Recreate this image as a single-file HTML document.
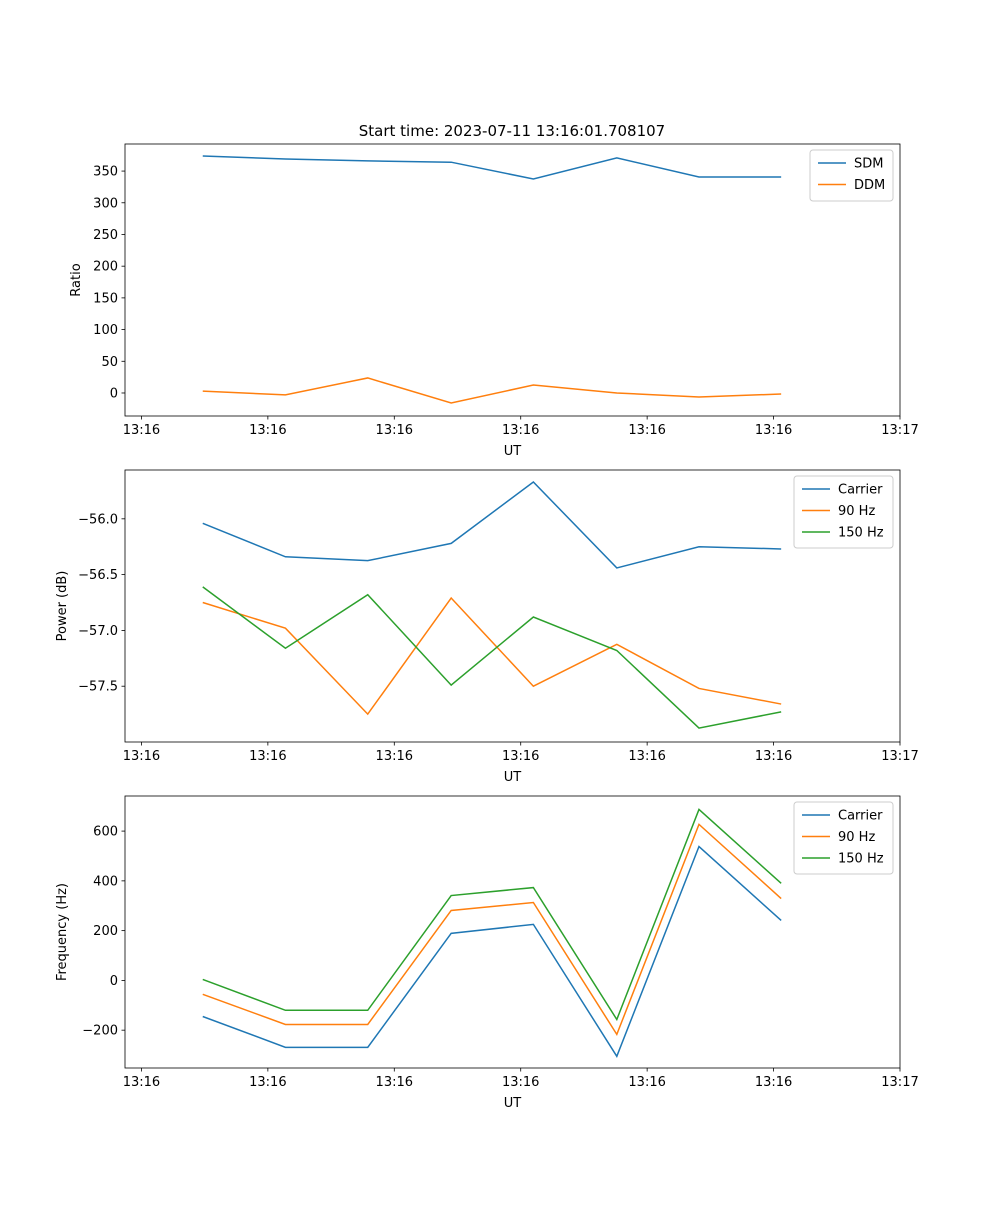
<!DOCTYPE html>
<html><head><meta charset="utf-8"><style>
body{margin:0;background:#fff;}
svg text{font-family:"DejaVu Sans","Liberation Sans",sans-serif;font-size:13px;fill:#000;}
</style></head><body>
<svg id="fig" width="1000" height="1200" viewBox="0 0 1000 1200" xmlns="http://www.w3.org/2000/svg">
<text x="512" y="136" text-anchor="middle" font-size="15" style="font-size:15px">Start time: 2023-07-11 13:16:01.708107</text>
</svg>
<script>
const times = [4.85, 11.39, 17.9, 24.5, 31.0, 37.6, 44.1, 50.6];
const xTickVals = [0, 10, 20, 30, 40, 50, 60];
const xTickLabels = ["13:16","13:16","13:16","13:16","13:16","13:16","13:17"];
const sdm = [373.8, 369, 366, 364, 337.5, 370.7, 340.7, 340.7];
const ddm = [3, -3, 23.7, -15.8, 12.6, 0, -6.3, -1.6];
const powCarrier = [-56.04, -56.34, -56.375, -56.22, -55.67, -56.44, -56.25, -56.27];
const pow90 = [-56.75, -56.98, -57.75, -56.71, -57.5, -57.125, -57.52, -57.66];
const pow150 = [-56.61, -57.16, -56.68, -57.49, -56.88, -57.18, -57.875, -57.73];
const freqCarrier = [-145, -269, -269, 189, 225, -305, 538, 241];
const freq90 = [-56, -177, -177, 281, 313, -217, 627, 329];
const freq150 = [4, -120, -120, 341, 373, -157, 687, 390];
const ratioTicks = [0, 50, 100, 150, 200, 250, 300, 350];
const powTicks = [-56.0, -56.5, -57.0, -57.5];
const freqTicks = [-200, 0, 200, 400, 600];

const NS = "http://www.w3.org/2000/svg";
const svg = document.getElementById("fig");
const colors = ["#1f77b4", "#ff7f0e", "#2ca02c"];
function mk(tag, attrs, parent){const e=document.createElementNS(NS,tag);for(const k in attrs)e.setAttribute(k,attrs[k]);(parent||svg).appendChild(e);return e;}

function panel(name, top, yMin, yMax, yTicks, yFmt, ylabel, series, labels, legX, legW){
  const L=125,R=900,T=top,B=top+272;
  const xMin=-1.3,xMax=60;
  const xs=v=>L+(v-xMin)/(xMax-xMin)*(R-L);
  const ys=v=>B-(v-yMin)/(yMax-yMin)*(B-T);
  const g=mk("g",{});
  
  
  series.forEach((s,i)=>{
    const p=mk("polyline",{points:s.map((v,j)=>xs(times[j])+","+ys(v)).join(" "),fill:"none",stroke:colors[i],"stroke-width":1.5},g);
    
    
  });
  const fr=mk("rect",{x:L,y:T,width:R-L,height:B-T,fill:"none",stroke:"#000","stroke-width":0.8},g);
  
  
  xTickVals.forEach((v,i)=>{
    const x=xs(v);
    mk("line",{x1:x,x2:x,y1:B,y2:B+3.5,stroke:"#000","stroke-width":0.8},g);
    const t=mk("text",{x:x,y:B+18,"text-anchor":"middle"},g);t.textContent=xTickLabels[i];
    
    
  });
  yTicks.forEach(v=>{
    const y=ys(v);
    mk("line",{x1:L-3.5,x2:L,y1:y,y2:y,stroke:"#000","stroke-width":0.8},g);
    const t=mk("text",{x:L-7,y:y+4.5,"text-anchor":"end"},g);t.textContent=yFmt(v);
    
    
  });
  const xl=mk("text",{x:(L+R)/2,y:B+39,"text-anchor":"middle"},g);xl.textContent="UT";
  
  
  const ylx = ylabel==="Ratio"?80:66;
  const yl=mk("text",{x:ylx,y:(T+B)/2,"text-anchor":"middle",transform:`rotate(-90 ${ylx} ${(T+B)/2})`},g);yl.textContent=ylabel;
  
  
  const lg=mk("g",{},g);
  
  
  const lh=labels.length*21+9;
  mk("rect",{x:legX,y:T+6,width:legW,height:lh,rx:3,fill:"#fff","fill-opacity":0.8,stroke:"#ccc"},lg);
  labels.forEach((lb,i)=>{
    const y=T+19+i*21.5;
    mk("line",{x1:legX+8,x2:legX+36,y1:y,y2:y,stroke:colors[i],"stroke-width":1.5},lg);
    const t=mk("text",{x:legX+44,y:y+4.5},lg);t.textContent=lb;
    
    
  });
}
const sgn=s=>s.replace("-","\u2212");
panel("ratio",144,-36.3,392.7,ratioTicks,v=>sgn(String(v)),"Ratio",[sdm,ddm],["SDM","DDM"],810,83);
panel("power",470,-58.0,-55.5625,powTicks,v=>sgn(v.toFixed(1)),"Power (dB)",[powCarrier,pow90,pow150],["Carrier","90 Hz","150 Hz"],794,99);
panel("frequency",796,-352,741,freqTicks,v=>sgn(String(v)),"Frequency (Hz)",[freqCarrier,freq90,freq150],["Carrier","90 Hz","150 Hz"],794,99);
</script>
</body></html>
